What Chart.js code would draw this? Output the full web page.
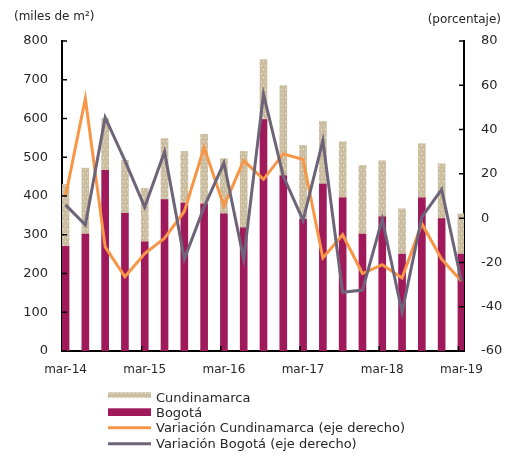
<!DOCTYPE html>
<html><head><meta charset="utf-8">
<script src="https://cdn.jsdelivr.net/npm/chart.js@4"></script>
<style>html,body{margin:0;padding:0;background:#fff}canvas{display:block}</style>
</head><body>
<canvas id="c" width="507" height="456"></canvas>
<script>
const categories = ['mar-14','jun-14','sep-14','dic-14','mar-15','jun-15','sep-15','dic-15','mar-16','jun-16','sep-16','dic-16','mar-17','jun-17','sep-17','dic-17','mar-18','jun-18','sep-18','dic-18','mar-19'];
const bogota = [270, 302, 466, 355, 282, 391, 382, 379, 354, 318, 597, 452, 340, 431, 395, 302, 346, 250, 395, 342, 250];
const cundinamarca = [160, 170, 134, 137, 138, 157, 133, 180, 142, 197, 155, 233, 191, 162, 145, 177, 145, 117, 140, 141, 104];
const varCundinamarca = [10, 54, -13, -26.5, -16, -9, 3, 32, 5.5, 26, 17.5, 29, 26.5, -18, -7.5, -25, -21, -27, -2.5, -18.5, -28.5];
const varBogota = [6, -3, 45.5, 26, 5, 30, -18.5, 5, 25, -18.5, 56, 19, -1, 35, -33.5, -32.5, -0.5, -42.5, 0.5, 13, -28.5];
const xTickLabels = ['mar-14','mar-15','mar-16','mar-17','mar-18','mar-19'];
const seriesNames = ['Bogotá', 'Cundinamarca', 'Variación Cundinamarca (eje derecho)', 'Variación Bogotá (eje derecho)'];
const legendOrder = [1, 0, 2, 3];

const TEXT = '#262626';
const BOG = '#a0195b';
const TAN = '#cbbd9f';
const ORANGE = '#f79646';
const PURPLE = '#6e6479';
const FONT = '"DejaVu Sans", sans-serif';

const canvas = document.getElementById('c');
function makePattern() {
  const p = document.createElement('canvas');
  p.width = 4; p.height = 8;
  const g = p.getContext('2d');
  g.fillStyle = TAN; g.fillRect(0, 0, 4, 8);
  g.fillStyle = '#f3eee4';
  g.fillRect(1, 1, 1, 1);
  g.fillRect(3, 5, 1, 1);
  return canvas.getContext('2d').createPattern(p, 'repeat');
}
const tanPattern = makePattern();
const pts = arr => arr.map((v, i) => ({x: i, y: v}));
const xTickValues = xTickLabels.map(l => categories.indexOf(l));

const decor = {
  id: 'decor',
  afterDraw(chart) {
    const ctx = chart.ctx;
    const {left, right, bottom} = chart.chartArea;
    const sy = chart.scales.y, sy1 = chart.scales.y1, sx = chart.scales.x;
    ctx.save();
    ctx.strokeStyle = '#000';
    ctx.lineWidth = 1.5;
    ctx.beginPath();
    sy.ticks.forEach(t => { const y = sy.getPixelForValue(t.value); ctx.moveTo(left, y); ctx.lineTo(left + 5, y); });
    sy1.ticks.forEach(t => { const y = sy1.getPixelForValue(t.value); ctx.moveTo(right - 5, y); ctx.lineTo(right, y); });
    sx.ticks.forEach(t => { const x = sx.getPixelForValue(t.value) - 3; if (x > left + 2) { ctx.moveTo(x, bottom); ctx.lineTo(x, bottom - 5); } });
    ctx.stroke();

    ctx.fillStyle = TEXT;
    ctx.font = '12px ' + FONT;
    ctx.textBaseline = 'middle';
    ctx.textAlign = 'left';
    ctx.fillText('(miles de m²)', 14, 17);
    ctx.textAlign = 'right';
    ctx.fillText('(porcentaje)', 501, 20);

    // legend
    const lx = left + 46, tx = left + 94;
    const ds = chart.data.datasets;
    const rows = [
      {base: 50.7, kind: 'box', y: 41.3, h: 5.4},
      {base: 66.3, kind: 'box', y: 57.3, h: 7.7},
      {base: 81.3, kind: 'line', y: 76.7},
      {base: 97, kind: 'line', y: 92.7}
    ];
    ctx.font = '13px ' + FONT;
    ctx.textAlign = 'left';
    ctx.textBaseline = 'alphabetic';
    legendOrder.forEach((di, r) => {
      const d = ds[di], row = rows[r];
      if (row.kind === 'box') {
        ctx.fillStyle = d.backgroundColor;
        ctx.fillRect(lx, bottom + row.y, 43, row.h);
      } else {
        ctx.strokeStyle = d.borderColor;
        ctx.lineWidth = 3;
        ctx.beginPath();
        ctx.moveTo(lx, bottom + row.y);
        ctx.lineTo(lx + 43, bottom + row.y);
        ctx.stroke();
      }
      ctx.fillStyle = TEXT;
      ctx.fillText(d.label, tx, bottom + row.base);
    });
    ctx.restore();
  }
};

new Chart(canvas, {
  type: 'bar',
  data: {
    datasets: [
      {label: seriesNames[0], data: pts(bogota), backgroundColor: BOG, barThickness: 7, stack: 's', yAxisID: 'y', order: 2},
      {label: seriesNames[1], data: pts(cundinamarca), backgroundColor: tanPattern, barThickness: 7, stack: 's', yAxisID: 'y', order: 2},
      {type: 'line', label: seriesNames[2], data: pts(varCundinamarca), borderColor: ORANGE, backgroundColor: ORANGE, borderWidth: 3, pointRadius: 0, tension: 0, fill: false, yAxisID: 'y1', order: 1},
      {type: 'line', label: seriesNames[3], data: pts(varBogota), borderColor: PURPLE, backgroundColor: PURPLE, borderWidth: 3, pointRadius: 0, tension: 0, fill: false, yAxisID: 'y1', order: 0}
    ]
  },
  options: {
    responsive: false,
    devicePixelRatio: 1,
    animation: false,
    events: [],
    layout: {padding: {top: 41, left: 0, right: 0, bottom: 0}},
    plugins: {legend: {display: false}, tooltip: {enabled: false}},
    scales: {
      x: {
        type: 'linear',
        offset: false,
        min: -0.18, max: 20.13,
        afterBuildTicks: s => { s.ticks = xTickValues.map(v => ({value: v})); },
        afterFit: s => { s.height = 105; },
        ticks: {autoSkip: false, maxRotation: 0, padding: 12, color: TEXT, font: {family: FONT, size: 12}, callback: v => categories[v]},
        grid: {display: false, drawTicks: false, offset: false},
        border: {display: true, color: '#000', width: 2}
      },
      y: {
        position: 'left',
        stacked: true,
        min: 0, max: 800,
        afterFit: s => { s.width = 62; },
        ticks: {stepSize: 100, padding: 14, color: TEXT, font: {family: FONT, size: 13}},
        grid: {display: false, drawTicks: false},
        border: {display: true, color: '#000', width: 2}
      },
      y1: {
        position: 'right',
        min: -60, max: 80,
        afterFit: s => { s.width = 43; },
        ticks: {stepSize: 20, padding: 17, color: TEXT, font: {family: FONT, size: 13}},
        grid: {display: false, drawTicks: false},
        border: {display: true, color: '#000', width: 2}
      }
    }
  },
  plugins: [decor]
});
</script>
</body></html>
